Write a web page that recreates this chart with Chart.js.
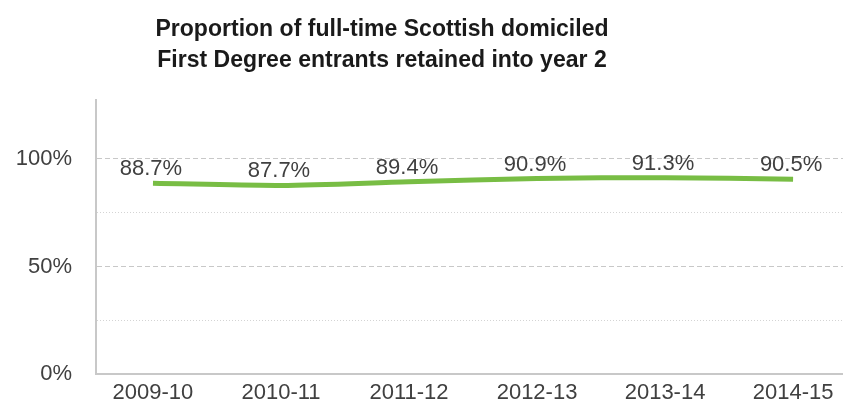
<!DOCTYPE html>
<html>
<head>
<meta charset="utf-8">
<script src="https://cdn.jsdelivr.net/npm/chart.js@4.4.1/dist/chart.umd.min.js"></script>
<style>
  body { margin: 0; background: #fff; }
  .chart-container { position: relative; width: 843px; height: 405px; }
  .chart-title {
    position: absolute; top: 12px; left: 0; width: 764px;
    text-align: center; color: #1a1a1a;
    font: bold 24px/31px "Liberation Sans", Arial, sans-serif;
    transform: scaleX(0.96); transform-origin: 382px 0;
  }
</style>
</head>
<body>
<div class="chart-container">
  <canvas id="retentionChart" width="843" height="405"></canvas>
  <div class="chart-title">Proportion of full-time Scottish domiciled<br>First Degree entrants retained into year 2</div>
</div>
<script>
const years = ["2009-10", "2010-11", "2011-12", "2012-13", "2013-14", "2014-15"];
const retained = [88.7, 87.7, 89.4, 90.9, 91.3, 90.5];
const yTicks = [0, 25, 50, 75, 100];

const textColor = "#404040";
const axisFont = { family: "'Liberation Sans', Arial, sans-serif", size: 22 };

// value labels above each point
const pointLabels = {
    id: "pointLabels",
    afterDatasetsDraw(chart) {
        const ctx = chart.ctx;
        const meta = chart.getDatasetMeta(0);
        ctx.save();
        ctx.font = "22px 'Liberation Sans', Arial, sans-serif";
        ctx.fillStyle = textColor;
        ctx.textAlign = "center";
        ctx.textBaseline = "middle";
        meta.data.forEach((pt, i) => {
            ctx.fillText(retained[i].toFixed(1) + "%", pt.x - 2, pt.y - 14);
        });
        ctx.restore();
    },
};

const ctx = document.getElementById("retentionChart").getContext("2d");

new Chart(ctx, {
    type: "line",
    data: {
        datasets: [
            {
                data: retained.map((v, i) => ({ x: i, y: v })),
                borderColor: "#78bd44",
                borderWidth: 5,
                borderCapStyle: "butt",
                tension: 0.3,
                pointRadius: 0,
                fill: false,
            },
        ],
    },
    options: {
        responsive: false,
        animation: false,
        layout: { padding: { top: 100, right: 0, bottom: 0, left: 0 } },
        plugins: {
            legend: { display: false },
            tooltip: { enabled: false },
        },
        scales: {
            x: {
                type: "linear",
                min: -0.445,
                max: 5.39,
                afterBuildTicks: (s) => {
                    s.ticks = years.map((_, i) => ({ value: i }));
                },
                afterFit: (s) => {
                    s.height = 31;
                },
                grid: { display: false, drawTicks: false },
                border: { display: true, color: "#c8c8c8", width: 2 },
                ticks: {
                    color: textColor,
                    font: axisFont,
                    padding: 6,
                    maxRotation: 0,
                    autoSkip: false,
                    callback: (v) => years[v] ?? "",
                },
            },
            y: {
                min: 0,
                max: 127.4,
                afterBuildTicks: (s) => {
                    s.ticks = yTicks.map((v) => ({ value: v }));
                },
                afterFit: (s) => {
                    s.width = 96;
                },
                grid: {
                    drawTicks: true,
                    tickLength: 24,
                    tickColor: "rgba(0,0,0,0)",
                    color: (c) => {
                        if (!c.tick || c.tick.value === 0) return "rgba(0,0,0,0)";
                        return c.tick.value % 50 === 0 ? "#c8c8c8" : "#d4d4d4";
                    },
                    lineWidth: 1,
                },
                border: {
                    display: true,
                    color: "#c8c8c8",
                    width: 2,
                    dash: (c) => {
                        if (!c.tick) return [];
                        return c.tick.value % 50 === 0 ? [5, 3] : [1, 2];
                    },
                },
                ticks: {
                    color: textColor,
                    font: axisFont,
                    padding: 0,
                    callback: (v) => (v % 50 === 0 ? v + "%" : ""),
                },
            },
        },
    },
    plugins: [pointLabels],
});
</script>
</body>
</html>
